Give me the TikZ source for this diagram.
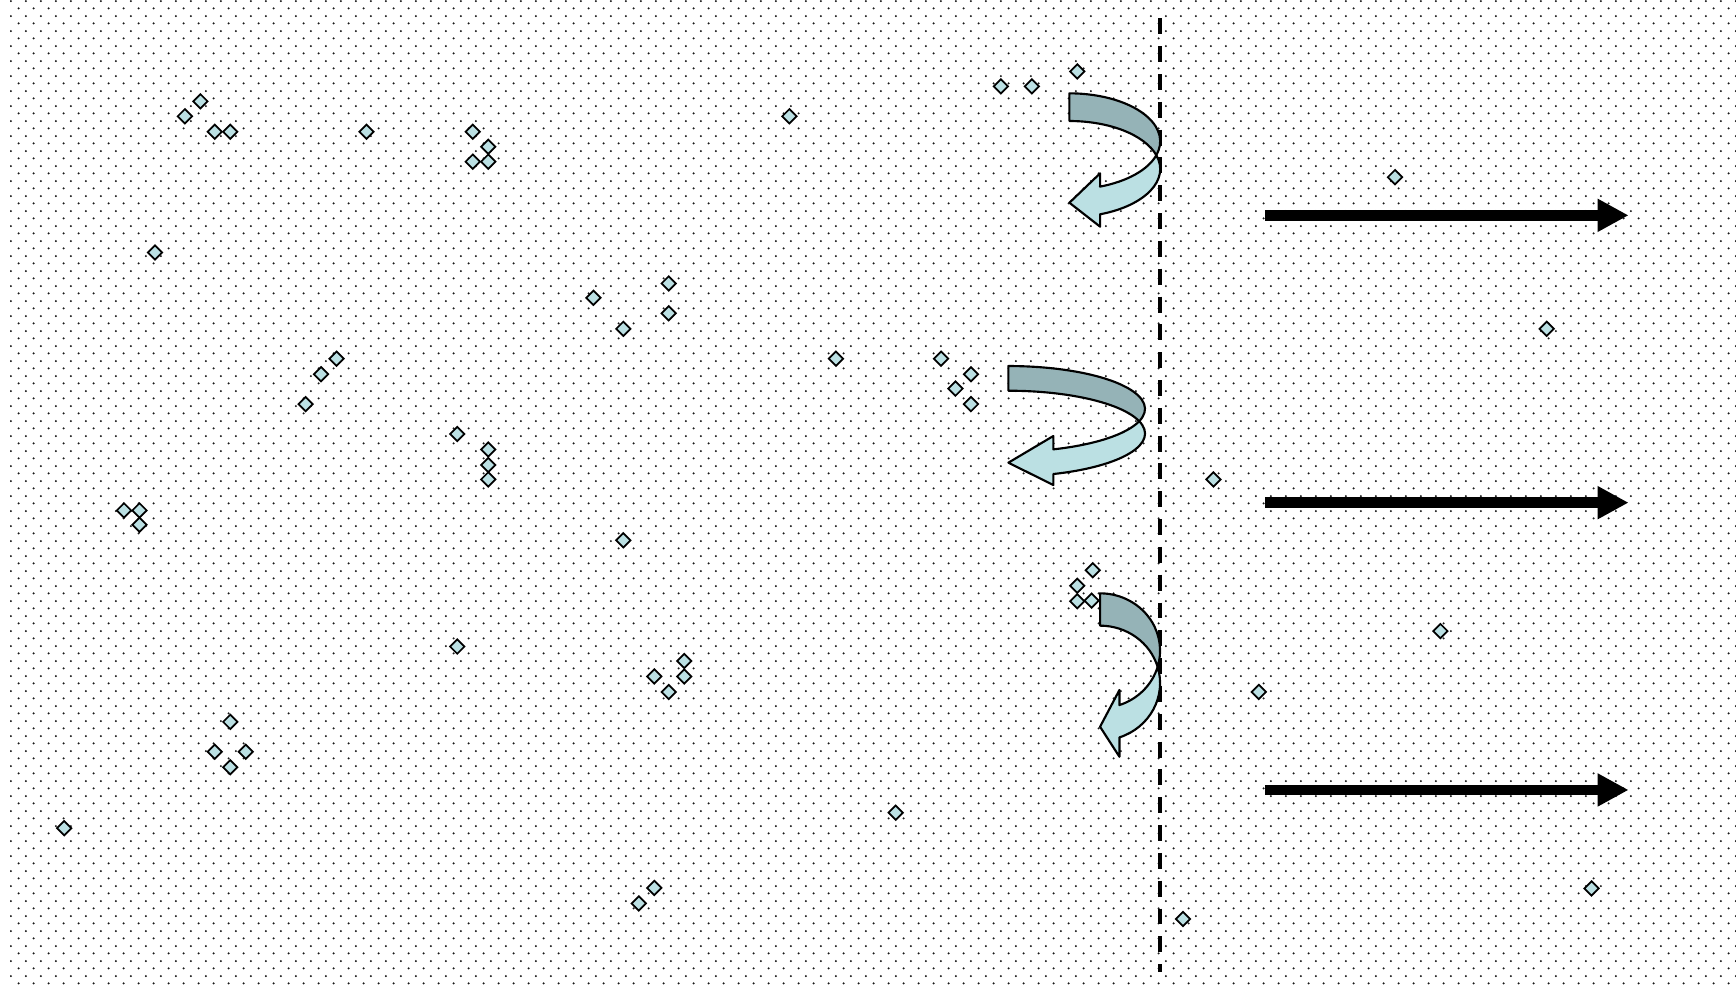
\documentclass[tikz,border=0pt]{standalone}
\usepackage{xcolor}
\usepackage{tikz}
\usetikzlibrary{shapes.geometric, arrows.meta, patterns}
\definecolor{gemfill}{HTML}{BBE0E3}
\definecolor{backfill}{HTML}{95B3B7}

\pgfdeclarepatternformonly{pptdots}{\pgfpointorigin}{\pgfqpoint{7.84pt}{7.84pt}}{\pgfqpoint{7.84pt}{7.84pt}}{%
  \pgfpathcircle{\pgfqpoint{1.96pt}{1.96pt}}{0.62pt}%
  \pgfpathcircle{\pgfqpoint{5.88pt}{5.88pt}}{0.62pt}%
  \pgfusepath{fill}%
}

% #1 left x, #2 centre y of outer edge, #3 x radius, #4 y radius,
% #5 band width, #6 head base x, #7 tip y, #8 / #9 barb y
\newcommand{\turnarrow}[9]{%
  \pgfmathsetmacro{\angx}{asin(#5/(2*#4))}%
  \pgfmathsetmacro{\angh}{acos((#6-#1)/#3)}%
  \filldraw[backside]
    (#1,#2-#4) arc[start angle=-90, end angle=\angx, x radius=#3, y radius=#4]
    arc[start angle=-\angx, end angle=-90, x radius=#3, y radius=#4] -- cycle;
  \filldraw[frontside]
    ({#1+#3*cos(\angx)},{#2+#5/2})
    arc[start angle=\angx, end angle=\angh, x radius=#3, y radius=#4]
    -- (#6,#8) -- (#1,#7) -- (#6,#9) -- ({#6},{#2+#5+#4*sin(\angh)})
    arc[start angle=\angh, end angle=-\angx, x radius=#3, y radius=#4] -- cycle;
}

\tikzset{
  crystal/.style={diamond, draw=black, fill=gemfill, line width=0.9pt, inner sep=0pt,
    minimum width=0.272cm, minimum height=0.272cm},
  backside/.style={fill=backfill, draw=black, line width=1.1pt, line join=round},
  frontside/.style={fill=gemfill, draw=black, line width=1.1pt, line join=round},
  boundary/.style={line width=2pt, dash pattern=on 8.2pt off 6.1pt},
  flow/.style={line width=0.194cm, -{Triangle[length=0.56cm, width=0.56cm]}}
}

\begin{document}
\begin{tikzpicture}[x=0.02cm, y=-0.02cm]
  \fill[white] (0,0) rectangle (1568,890.6);
  \fill[pattern=pptdots, pattern color=black!90] (9,0) rectangle (1568,890.6);
  \useasboundingbox (0,0) rectangle (1568,890.6);

  % wall
  \coordinate (wtop) at (1048.1,16.6);
  \coordinate (wbot) at (1048.1,878);
  \draw[boundary] (wtop) -- (wbot);

  % particles bouncing back
  \turnarrow{965.9}{127.7}{82}{43.4}{25}{993.6}{183.1}{156.6}{204.7}
  \turnarrow{910.8}{369.3}{123.4}{38.7}{22.3}{951.4}{417.9}{393.8}{438.1}
  \turnarrow{993.6}{587.75}{54.2}{51.85}{29.2}{1011.1}{656.4}{623.2}{683.5}

  % outgoing flow
  \foreach \ry [count=\k] in {194.5,454,713.5} {
    \coordinate (fs\k) at (1143,\ry);
    \coordinate (fe\k) at (1471,\ry);
    \draw[flow] (fs\k) -- (fe\k);
  }

  % particles
  \foreach \px/\py [count=\i] in {
      904/78, 932/78, 973/64.5, 713/105, 167/105, 181/91.5, 194/119, 208/119,
      331/119, 427/119, 441/132.5, 427/146, 441/146, 1260/160, 140/228,
      536/269, 604/256, 604/283, 563/297, 1397/297, 304/324, 290/338, 276/365,
      755/324, 850/324, 877/338, 863/351, 877/365, 413/392, 441/406, 441/420,
      441/433, 1096/433, 112/461, 126/461, 126/474, 563/488, 987/515, 973/529,
      973/543, 986/542.5, 413/584, 618/597, 591/611, 618/611, 604/625,
      1301/570, 1137/625, 208/652, 194/679, 222/679, 208/693, 58/748,
      809/734, 591/802, 577/816, 1437.5/802.4, 1068.5/830}
    \node[crystal] (g\i) at (\px,\py) {};
\end{tikzpicture}
\end{document}
